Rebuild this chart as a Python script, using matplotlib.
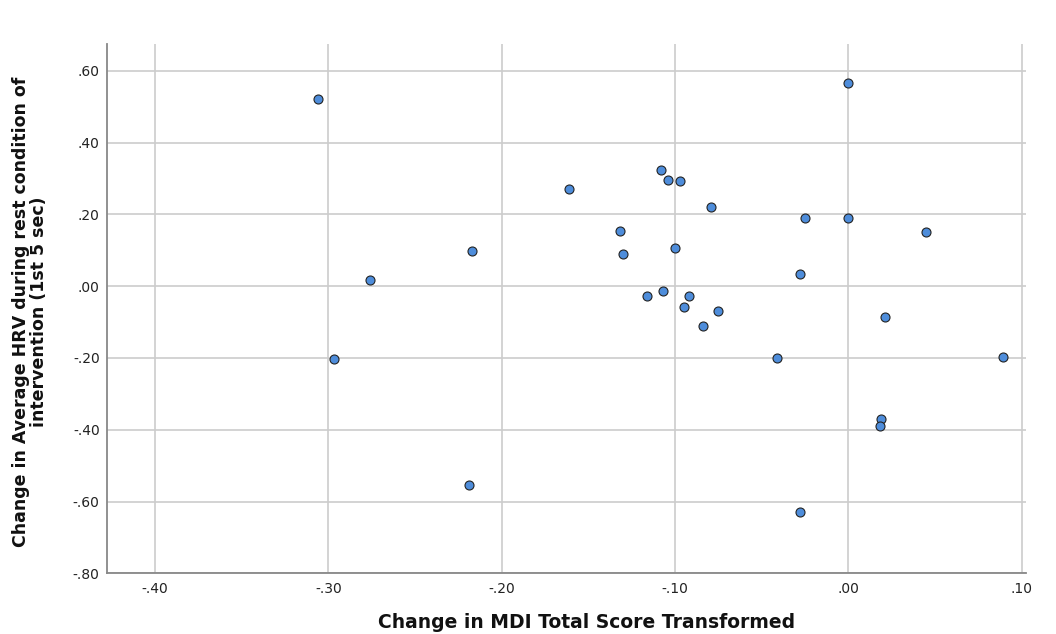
import matplotlib
matplotlib.use("Agg")
import matplotlib.pyplot as plt
import numpy as np

# change in MDI total score (transformed) vs change in average HRV
mdi_change = [-0.306, -0.297, -0.276, -0.217, -0.219, -0.161, -0.132, -0.130,
              -0.116, -0.108, -0.104, -0.097, -0.107, -0.100, -0.092, -0.095,
              -0.084, -0.079, -0.075, -0.041, -0.025, -0.028, -0.028, 0.000,
              0.000, 0.045, 0.021, 0.089, 0.019, 0.018]
hrv_change = [0.522, -0.202, 0.016, 0.097, -0.555, 0.271, 0.153, 0.089,
              -0.028, 0.324, 0.297, 0.292, -0.012, 0.107, -0.027, -0.057,
              -0.112, 0.220, -0.069, -0.200, 0.191, 0.035, -0.630, 0.566,
              0.190, 0.152, -0.087, -0.197, -0.371, -0.390]

x_ticks = [-0.40, -0.30, -0.20, -0.10, 0.00, 0.10]
y_ticks = [-0.80, -0.60, -0.40, -0.20, 0.00, 0.20, 0.40, 0.60]


def spss_fmt(v):
    # SPSS style: drop the leading zero, plain hyphen for minus
    s = "%.2f" % v
    s = s.replace("0.", ".", 1)
    if s == "-.00":
        s = ".00"
    return s


fig = plt.figure(figsize=(10.56, 6.34), dpi=100)
ax = fig.add_axes([0.101, 0.0957, 0.8706, 0.835])

ax.scatter(mdi_change, hrv_change, s=42, c="#4e8ddb", edgecolors="#222222",
           linewidths=0.8, zorder=3)

ax.set_xlim(-0.428, 0.1025)
ax.set_ylim(-0.80, 0.675)
ax.set_xticks(x_ticks)
ax.set_yticks(y_ticks)
ax.set_xticklabels([spss_fmt(v) for v in x_ticks])
ax.set_yticklabels([spss_fmt(v) for v in y_ticks])
ax.tick_params(length=0, labelsize=10, colors="#222222")
ax.tick_params(axis="x", pad=6)
ax.tick_params(axis="y", pad=5)

ax.grid(True, color="#cccccc", linewidth=1.2, zorder=0)
ax.set_axisbelow(True)
for side in ["top", "right"]:
    ax.spines[side].set_visible(False)
for side in ["left", "bottom"]:
    ax.spines[side].set_color("#888888")
    ax.spines[side].set_linewidth(1.3)

fig.text(587 / 1056, 1 - 622 / 634, "Change in MDI Total Score Transformed",
         ha="center", va="center", fontsize=13.5, fontweight="bold", color="#111111")
fig.text(30 / 1056, 1 - 312 / 634,
         "Change in Average HRV during rest condition of\nintervention (1st 5 sec)",
         ha="center", va="center", rotation=90, fontsize=12.5, fontweight="bold",
         color="#111111", multialignment="center", linespacing=1.0)

fig.savefig("out.png", dpi=100)
